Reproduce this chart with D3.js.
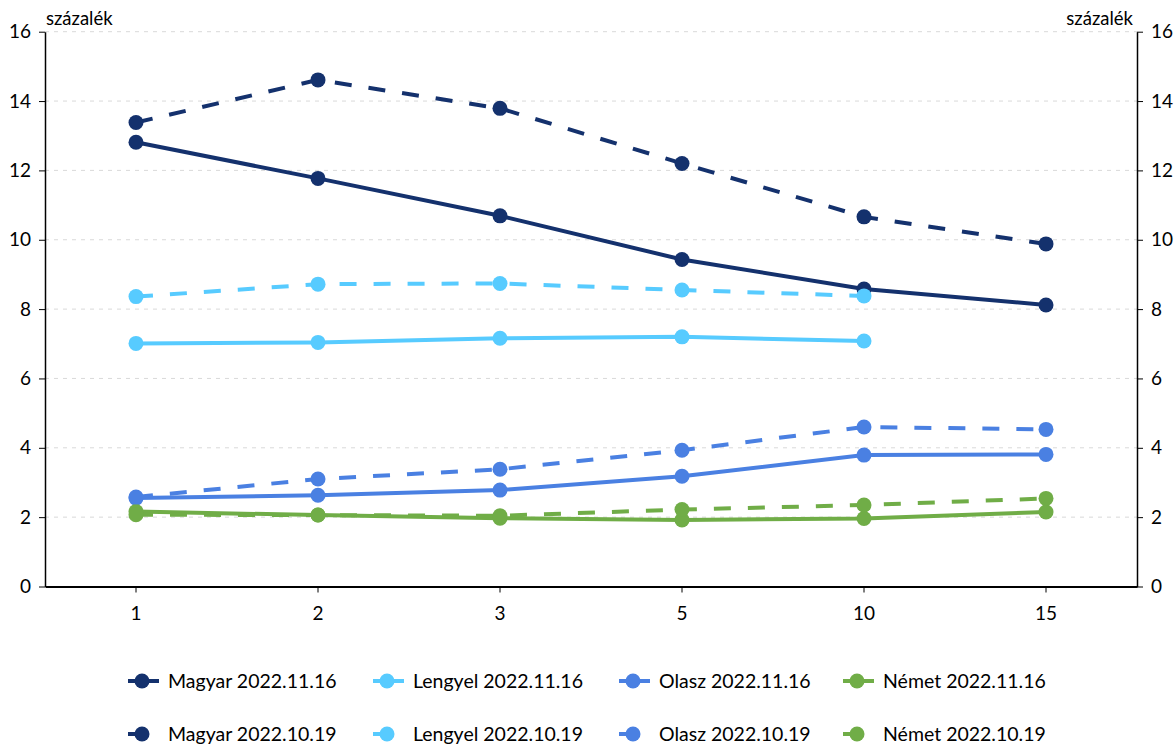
<!DOCTYPE html>
<html>
<head>
<meta charset="utf-8">
<script src="https://cdn.jsdelivr.net/npm/d3@7"></script>
<style>
  html, body { margin: 0; padding: 0; background: #fff; }
  svg { display: block; font-family: Lato, "Noto Sans", sans-serif; }
</style>
</head>
<body>
<svg id="chart" width="1174" height="744"></svg>
<script>
// ---- data ----
const categories = ["1", "2", "3", "5", "10", "15"];
const yTicks = [0, 2, 4, 6, 8, 10, 12, 14, 16];
const unitLabel = "százalék";

const magyar1116 = [12.81, 11.77, 10.69, 9.43, 8.58, 8.12];
const lengyel1116 = [7.01, 7.04, 7.16, 7.20, 7.08, null];
const olasz1116 = [2.55, 2.63, 2.78, 3.18, 3.79, 3.81];
const nemet1116 = [2.16, 2.06, 1.97, 1.92, 1.96, 2.15];

const magyar1019 = [13.38, 14.61, 13.79, 12.20, 10.66, 9.88];
const lengyel1019 = [8.36, 8.72, 8.74, 8.55, 8.38, null];
const olasz1019 = [2.58, 3.10, 3.38, 3.93, 4.60, 4.53];
const nemet1019 = [2.07, 2.06, 2.04, 2.22, 2.35, 2.54];

const seriesNames = [
  "Magyar 2022.11.16", "Lengyel 2022.11.16", "Olasz 2022.11.16", "Német 2022.11.16",
  "Magyar 2022.10.19", "Lengyel 2022.10.19", "Olasz 2022.10.19", "Német 2022.10.19"
];
const seriesValues = [magyar1116, lengyel1116, olasz1116, nemet1116,
                      magyar1019, lengyel1019, olasz1019, nemet1019];
const seriesColors = ["#14316d", "#57cbff", "#4a80e2", "#70ad47",
                      "#14316d", "#57cbff", "#4a80e2", "#70ad47"];
const seriesDashed = [false, false, false, false, true, true, true, true];

// ---- layout ----
const svg = d3.select("#chart");
const mLeft = 45, mRight = 1137, mTop = 31.7, mBottom = 586.5;

const x = d3.scaleBand().domain(categories).range([mLeft, mRight]).padding(0);
const y = d3.scaleLinear().domain([0, 16]).range([mBottom, mTop]);
const cx = c => x(c) + x.bandwidth() / 2;

// gridlines
svg.append("g").selectAll("line")
  .data(yTicks.filter(t => t > 0))
  .join("line")
  .attr("x1", mLeft).attr("x2", mRight)
  .attr("y1", d => y(d)).attr("y2", d => y(d))
  .attr("stroke", "#d9d9d9").attr("stroke-width", 1)
  .attr("stroke-dasharray", "4,5");

// left axis
const yAxisL = svg.append("g").attr("transform", `translate(${mLeft},0)`)
  .call(d3.axisLeft(y).tickValues(yTicks).tickSize(6).tickSizeOuter(0).tickPadding(8));
// right axis
const yAxisR = svg.append("g").attr("transform", `translate(${mRight},0)`)
  .call(d3.axisRight(y).tickValues(yTicks).tickSize(6).tickSizeOuter(0).tickPadding(8));
// bottom axis
const xAxis = svg.append("g").attr("transform", `translate(0,${mBottom})`)
  .call(d3.axisBottom(x).tickSize(6).tickSizeOuter(0).tickPadding(14));

[yAxisL, yAxisR, xAxis].forEach(g => {
  g.select(".domain").attr("stroke", "#000").attr("stroke-width", 1.5);
  g.selectAll(".tick line").attr("stroke", "#000").attr("stroke-width", 1);
  g.selectAll("text").attr("fill", "#000").style("font-size", "19px")
    .style("font-family", "Lato, 'Noto Sans', sans-serif");
});
xAxis.select(".domain").attr("stroke-width", 2);

// unit labels
svg.append("text").attr("x", 46).attr("y", 25).text(unitLabel)
  .attr("fill", "#000").style("font-size", "18.5px");
svg.append("text").attr("x", 1133).attr("y", 25).attr("text-anchor", "end").text(unitLabel)
  .attr("fill", "#000").style("font-size", "18.5px");

// series
const lineGen = d3.line()
  .defined(d => d.v != null)
  .x(d => cx(d.c)).y(d => y(d.v));

const plot = svg.append("g");
seriesNames.forEach((name, i) => {
  const pts = categories.map((c, j) => ({ c, v: seriesValues[i][j] }));
  const g = plot.append("g");
  g.append("path").datum(pts)
    .attr("d", lineGen)
    .attr("fill", "none")
    .attr("stroke", seriesColors[i])
    .attr("stroke-width", 4)
    .attr("stroke-dasharray", seriesDashed[i] ? "17,17" : null);
  g.selectAll("circle").data(pts.filter(d => d.v != null)).join("circle")
    .attr("cx", d => cx(d.c)).attr("cy", d => y(d.v)).attr("r", 7.5)
    .attr("fill", seriesColors[i]);
});

// legend
const legendCols = [128, 373, 619, 843];
const legendRows = [681, 734];
seriesNames.forEach((name, i) => {
  const col = i % 4, row = Math.floor(i / 4);
  const lx = legendCols[col], ly = legendRows[row];
  const g = svg.append("g");
  g.append("line").attr("x1", lx).attr("x2", lx + 31).attr("y1", ly).attr("y2", ly)
    .attr("stroke", seriesColors[i]).attr("stroke-width", 4)
    .attr("stroke-dasharray", seriesDashed[i] ? "17,17" : null);
  g.append("circle").attr("cx", lx + 14).attr("cy", ly).attr("r", 7.5).attr("fill", seriesColors[i]);
  g.append("text").attr("x", lx + 40).attr("y", ly).attr("dy", "0.35em")
    .text(name).attr("fill", "#000").style("font-size", "19.5px");
});
</script>
</body>
</html>
